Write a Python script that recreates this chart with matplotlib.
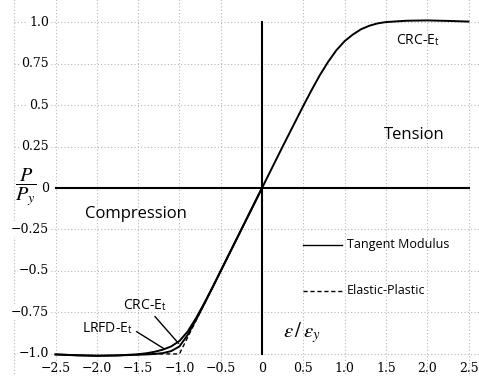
import matplotlib
matplotlib.use("Agg")
import matplotlib.pyplot as plt

# ---- data ----
tension_x = [0.0, 0.25, 0.5, 0.6, 0.7, 0.8, 0.9, 1.0, 1.1, 1.2, 1.3, 1.4, 1.5, 1.75, 2.0, 2.25, 2.5]
tension_y = [0.0, 0.25, 0.495, 0.59, 0.68, 0.76, 0.83, 0.885, 0.925, 0.957, 0.978, 0.992, 1.0, 1.008, 1.01, 1.007, 1.003]

crc_comp_x = [0.0, -0.5, -0.6, -0.7, -0.8, -0.9, -1.0, -1.1, -1.2, -1.3, -1.4, -1.5, -1.75, -2.0, -2.25, -2.5]
crc_comp_y = [0.0, -0.5, -0.6, -0.695, -0.785, -0.865, -0.922, -0.955, -0.974, -0.987, -0.996, -1.002, -1.009, -1.011, -1.008, -1.003]

lrfd_comp_x = [0.0, -0.5, -0.6, -0.7, -0.8, -0.9, -1.0, -1.1, -1.2, -1.3, -1.4, -1.5, -1.75, -2.0, -2.25, -2.5]
lrfd_comp_y = [0.0, -0.5, -0.6, -0.7, -0.795, -0.885, -0.955, -0.983, -0.995, -1.0, -1.003, -1.005, -1.009, -1.011, -1.008, -1.003]

ep_x = [0.0, -1.0, -1.5]
ep_y = [0.0, -1.0, -1.0]

x_ticks = [-2.5, -2.0, -1.5, -1.0, -0.5, 0, 0.5, 1.0, 1.5, 2.0, 2.5]
x_tick_labels = ["\u22122.5", "\u22122.0", "\u22121.5", "\u22121.0", "\u22120.5", "0", "0.5", "1.0", "1.5", "2.0", "2.5"]
y_ticks = [1.0, 0.75, 0.5, 0.25, 0, -0.25, -0.5, -0.75, -1.0]
y_tick_labels = ["1.0", "0.75", "0.5", "0.25", "0", "\u22120.25", "\u22120.5", "\u22120.75", "\u22121.0"]
grid_x = [-3.0, -2.5, -2.0, -1.5, -1.0, -0.5, 0.5, 1.0, 1.5, 2.0, 2.5]
grid_y = [1.0, 0.75, 0.5, 0.25, -0.25, -0.5, -0.75, -1.0]

plt.rcParams['mathtext.fontset'] = 'stix'
SANS = ['Open Sans', 'DejaVu Sans']
SERIF = ['DejaVu Serif']

fig = plt.figure(figsize=(4.79, 3.76), dpi=100)
ax = fig.add_axes([0, 0, 1, 1])
ax.set_xlim(-3.172, 2.627)
ax.set_ylim(-1.133, 1.133)
ax.axis('off')

# grid
gcol = '#b8b8b8'
ax.vlines(grid_x, -1.2, 1.2, colors=gcol, linestyles=(0, (1, 2)), linewidth=0.8, zorder=0)
ax.hlines(grid_y, -3.0, 2.7, colors=gcol, linestyles=(0, (1, 2)), linewidth=0.8, zorder=0)

# axes lines
ax.plot([-2.5, 2.5], [0, 0], color='black', lw=1.5, zorder=2)
ax.plot([0, 0], [-1.0, 1.0], color='black', lw=1.5, zorder=2)

# curves
ax.plot(tension_x, tension_y, color='black', lw=1.4, zorder=3)
ax.plot(crc_comp_x, crc_comp_y, color='black', lw=1.4, zorder=3)
ax.plot(lrfd_comp_x, lrfd_comp_y, color='black', lw=1.4, zorder=3)
ax.plot(ep_x, ep_y, color='black', lw=1.0, ls=(0, (3, 2)), zorder=3)

# tick labels
bb = dict(facecolor='white', edgecolor='none', pad=0.5)
for v, s in zip(y_ticks, y_tick_labels):
    ax.text(-2.58, v, s, ha='right', va='center', fontsize=9, family=SERIF, bbox=bb, zorder=4)
for v, s in zip(x_ticks, x_tick_labels):
    ax.text(v, -1.088, s, ha='center', va='center', fontsize=9, family=SERIF, zorder=4)

# axis labels
ax.text(-2.86, 0.0, r'$\dfrac{P}{P_y}$', ha='center', va='center', fontsize=14.5, zorder=4)
ax.text(0.48, -0.873, r'$\varepsilon\,/\,\varepsilon_y$', ha='center', va='center', fontsize=15, zorder=4)

# annotations
ax.text(-2.143, -0.157, 'Compression', ha='left', va='center', fontsize=12, family=SANS)
ax.text(1.477, 0.319, 'Tension', ha='left', va='center', fontsize=12, family=SANS)
ax.text(1.622, 0.892, r'CRC-E$_\mathregular{t}$', ha='left', va='center', fontsize=10, family=SANS)
ax.text(-1.683, -0.705, r'CRC-E$_\mathregular{t}$', ha='left', va='center', fontsize=10, family=SANS)
ax.text(-2.179, -0.843, r'LRFD-E$_\mathregular{t}$', ha='left', va='center', fontsize=10, family=SANS)
ax.plot([-1.295, -1.013], [-0.775, -0.935], color='black', lw=1.0)
ax.plot([-1.517, -1.195], [-0.866, -0.966], color='black', lw=1.0)

# legend-like keys
ax.plot([0.496, 0.968], [-0.343, -0.343], color='black', lw=1.0)
ax.plot([0.496, 0.968], [-0.619, -0.619], color='black', lw=1.0, ls=(0, (3, 2)))
ax.text(1.029, -0.343, 'Tangent Modulus', ha='left', va='center', fontsize=9, family=SANS)
ax.text(1.029, -0.619, 'Elastic-Plastic', ha='left', va='center', fontsize=9, family=SANS)

fig.savefig('out.png', dpi=100)
